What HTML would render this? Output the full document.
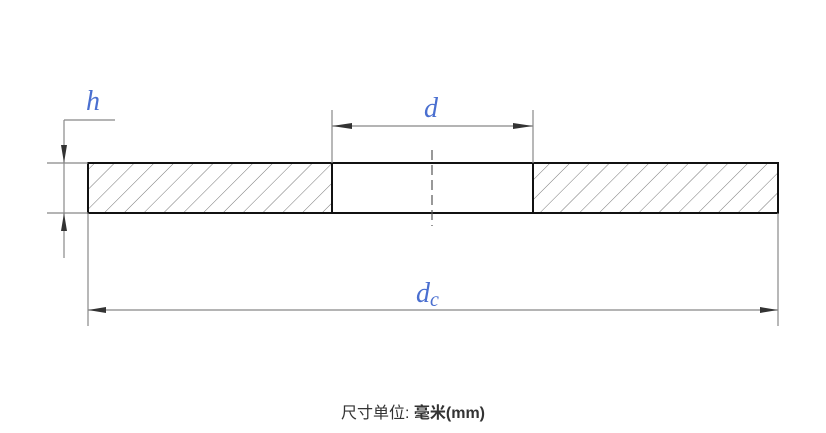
<!DOCTYPE html>
<html><head><meta charset="utf-8"><style>
body{margin:0;width:826px;height:433px;background:#fff;overflow:hidden}
.cap{position:absolute;top:399px;left:0;width:826px;text-align:center;font:16px "Liberation Sans","Noto Sans CJK SC",sans-serif;color:#333}
</style></head><body>
<svg width="826" height="433" style="position:absolute;left:0;top:0">
<defs>
<pattern id="h" patternUnits="userSpaceOnUse" width="14" height="14" patternTransform="rotate(45)">
<line x1="0" y1="0" x2="0" y2="14" stroke="#777" stroke-width="1"/>
</pattern>
</defs>
<rect x="88" y="163" width="244" height="50" fill="url(#h)"/>
<rect x="533" y="163" width="245" height="50" fill="url(#h)"/>
<g stroke="#111" stroke-width="2" fill="none">
<rect x="88" y="163" width="690" height="50"/>
<line x1="332" y1="163" x2="332" y2="213"/>
<line x1="533" y1="163" x2="533" y2="213"/>
</g>
<g stroke="#888" stroke-width="1.2" fill="none">
<line x1="432" y1="150" x2="432" y2="226" stroke-dasharray="10,5" stroke="#555"/>
<line x1="88" y1="213" x2="88" y2="326"/>
<line x1="778" y1="213" x2="778" y2="326"/>
<line x1="88" y1="310" x2="778" y2="310"/>
<line x1="332" y1="110" x2="332" y2="163"/>
<line x1="533" y1="110" x2="533" y2="163"/>
<line x1="332" y1="126" x2="533" y2="126"/>
<line x1="47" y1="163" x2="88" y2="163"/>
<line x1="47" y1="213" x2="88" y2="213"/>
<line x1="64" y1="120" x2="64" y2="258"/>
<line x1="64" y1="120" x2="115" y2="120"/>
</g>
<g fill="#333">
<polygon points="88,310 106,307 106,313"/>
<polygon points="778,310 760,307 760,313"/>
<polygon points="332,126 352,123 352,129"/>
<polygon points="533,126 513,123 513,129"/>
<polygon points="64,163 61,145 67,145"/>
<polygon points="64,213 61,231 67,231"/>
</g>
<g font-family="Liberation Serif,serif" font-style="italic" fill="#4a6fd0" font-size="28">
<text x="86" y="110">h</text>
<text x="424" y="117">d</text>
<text x="416" y="302">d<tspan font-size="20" dy="4">c</tspan></text>
</g>
</svg>
<div class="cap">尺寸单位: <b>毫米(mm)</b></div>
</body></html>
